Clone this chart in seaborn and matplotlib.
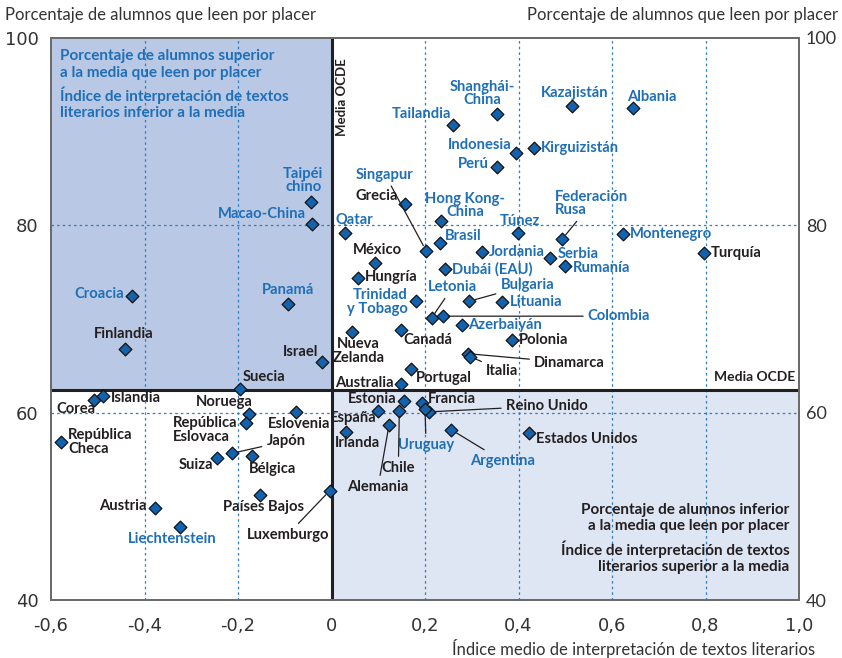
import matplotlib
matplotlib.use("Agg")
import matplotlib.pyplot as plt
import seaborn as sns
import pandas as pd

# ---- data ----
countries = [
    "Tailandia", "Shanghái-China", "Kazajistán", "Albania", "Indonesia", "Kirguizistán",
    "Perú", "Grecia", "Singapur", "Hong Kong-China", "Qatar", "Túnez", "Federación Rusa",
    "Montenegro", "Turquía", "Brasil", "México", "Hungría", "Jordania", "Serbia", "Rumanía",
    "Dubái (EAU)", "Trinidad y Tobago", "Letonia", "Colombia", "Bulgaria", "Lituania",
    "Azerbaiyán", "Nueva Zelanda", "Canadá", "Polonia", "Dinamarca", "Italia", "Portugal",
    "Australia", "Taipéi chino", "Macao-China", "Croacia", "Panamá", "Finlandia", "Israel",
    "Suecia", "Corea", "Islandia", "República Checa", "Noruega", "República Eslovaca",
    "Eslovenia", "Japón", "Suiza", "Bélgica", "Países Bajos", "Luxemburgo", "Austria",
    "Liechtenstein", "Estonia", "Francia", "Reino Unido", "Uruguay", "España", "Chile",
    "Alemania", "Irlanda", "Argentina", "Estados Unidos",
]
lit_index = [
    0.260, 0.353, 0.514, 0.645, 0.395, 0.433,
    0.354, 0.158, 0.202, 0.234, 0.028, 0.398, 0.493,
    0.623, 0.796, 0.232, 0.092, 0.057, 0.322, 0.468, 0.500,
    0.242, 0.180, 0.214, 0.238, 0.295, 0.365,
    0.278, 0.043, 0.149, 0.385, 0.292, 0.296, 0.169,
    0.148, -0.043, -0.041, -0.426, -0.094, -0.441, -0.021,
    -0.195, -0.508, -0.489, -0.578, -0.177, -0.182,
    -0.075, -0.212, -0.244, -0.171, -0.152, -0.004, -0.378,
    -0.324, 0.155, 0.193, 0.208, 0.200, 0.099, 0.145,
    0.123, 0.032, 0.256, 0.422,
]
pct_read = [
    90.7, 91.9, 92.7, 92.5, 87.7, 88.2,
    86.2, 82.3, 77.3, 80.4, 79.2, 79.2, 78.5,
    79.1, 77.0, 78.1, 76.0, 74.4, 77.1, 76.5, 75.6,
    75.3, 71.9, 70.1, 70.3, 71.9, 71.8,
    69.4, 68.6, 68.8, 67.8, 66.3, 66.0, 64.7,
    63.1, 82.5, 80.1, 72.5, 71.6, 66.8, 65.4,
    62.5, 61.35, 61.8, 56.9, 59.9, 58.9,
    60.1, 55.7, 55.2, 55.4, 51.2, 51.7, 49.9,
    47.8, 61.3, 61.1, 60.1, 60.4, 60.2, 60.2,
    58.7, 58.0, 58.2, 57.9,
]
partners = [
    "Tailandia", "Shanghái-China", "Kazajistán", "Albania", "Indonesia", "Kirguizistán",
    "Perú", "Singapur", "Hong Kong-China", "Qatar", "Túnez", "Federación Rusa", "Montenegro",
    "Brasil", "Jordania", "Serbia", "Rumanía", "Dubái (EAU)", "Trinidad y Tobago", "Letonia",
    "Colombia", "Bulgaria", "Lituania", "Azerbaiyán", "Taipéi chino", "Macao-China",
    "Croacia", "Panamá", "Liechtenstein", "Uruguay", "Argentina",
]
oecd_mean_x = 0.0
oecd_mean_y = 62.4
x_ticks = [-0.6, -0.4, -0.2, 0.0, 0.2, 0.4, 0.6, 0.8, 1.0]
x_tick_labels = ["-0,6", "-0,4", "-0,2", "0", "0,2", "0,4", "0,6", "0,8", "1,0"]
y_ticks = [40, 60, 80, 100]

df = pd.DataFrame({"country": countries, "x": lit_index, "y": pct_read})

# ---- label placement (offset in pixels, alignment, leader line) ----
wrap = {
    "Shanghái-China": "Shanghái-\nChina", "Hong Kong-China": "Hong Kong-\nChina",
    "Federación Rusa": "Federación\nRusa", "Trinidad y Tobago": "Trinidad\ny Tobago",
    "Nueva Zelanda": "Nueva\nZelanda", "Taipéi chino": "Taipéi\nchino",
    "República Checa": "República\nCheca", "República Eslovaca": "República\nEslovaca",
}
label_pos = {
    "Tailandia": (-2, 11, "right", False), "Shanghái-China": (-14, 20, "center", False),
    "Kazajistán": (3, 13, "center", False), "Albania": (-6, 11, "left", False),
    "Indonesia": (-5, 8, "right", False), "Kirguizistán": (7, 0, "left", False),
    "Perú": (-8, 3, "right", False), "Grecia": (-7, 8, "right", False),
    "Singapur": (-41, 76, "center", True), "Hong Kong-China": (24, 16, "center", False),
    "Qatar": (-9, 13, "left", False), "Túnez": (2, 12, "center", False),
    "Federación Rusa": (-7, 36, "left", True), "Montenegro": (7, 0, "left", False),
    "Turquía": (7, 0, "left", False), "Brasil": (5, 7, "left", False),
    "México": (3, 13, "center", False), "Hungría": (7, 1, "left", False),
    "Jordania": (7, 0, "left", False), "Serbia": (7, 4, "left", False),
    "Rumanía": (8, -2, "left", False), "Dubái (EAU)": (7, 0, "left", False),
    "Trinidad y Tobago": (-8, -1, "right", False), "Letonia": (21, 31, "center", True),
    "Colombia": (145, 0, "left", True), "Bulgaria": (31, 16, "left", True),
    "Lituania": (8, 0, "left", False), "Azerbaiyán": (7, 0, "left", False),
    "Nueva Zelanda": (7, -19, "center", False), "Canadá": (2, -10, "left", False),
    "Polonia": (7, 0, "left", False), "Dinamarca": (66, -9, "left", True),
    "Italia": (16, -14, "left", True), "Portugal": (5, -9, "left", False),
    "Australia": (-7, 1, "right", False), "Taipéi chino": (-8, 21, "center", False),
    "Macao-China": (-6, 10, "right", False), "Croacia": (-8, 2, "right", False),
    "Panamá": (0, 14, "center", False), "Finlandia": (-2, 15, "center", False),
    "Israel": (-3, 10, "right", False), "Suecia": (2, 12, "left", False),
    "Corea": (-18, -9, "center", False), "Islandia": (8, -2, "left", False),
    "República Checa": (7, 0, "left", False), "Noruega": (-24, 12, "center", False),
    "República Eslovaca": (-9, -7, "right", False), "Eslovenia": (3, -12, "center", False),
    "Japón": (34, 12, "left", True), "Suiza": (-4, -7, "right", False),
    "Bélgica": (-3, -13, "left", False), "Países Bajos": (3, -12, "center", False),
    "Luxemburgo": (-42, -44, "center", True), "Austria": (-8, 2, "right", False),
    "Liechtenstein": (-8, -12, "center", False), "Estonia": (-7, 2, "right", False),
    "Francia": (6, 4, "left", False), "Reino Unido": (77, 6, "left", True),
    "Uruguay": (1, -36, "center", True), "España": (-1, -7, "right", False),
    "Chile": (-1, -57, "center", True), "Alemania": (-11, -62, "center", True),
    "Irlanda": (11, -11, "center", False), "Argentina": (51, -31, "center", True),
    "Estados Unidos": (7, -6, "left", False),
}

BLUE_TXT = "#1f6fb7"
DARK = "#231f20"
MARK = "#1262ad"
GRID = "#2b7bc4"

fig, ax = plt.subplots(figsize=(8.42, 6.58), dpi=100)
fig.subplots_adjust(left=0.0606, right=0.949, top=0.943, bottom=0.0874)
sns.set_style("white")
plt.rcParams["font.family"] = ["Lato", "DejaVu Sans"]

ax.set_xlim(-0.6, 1.0)
ax.set_ylim(40, 100)

# quadrant shading
ax.fill_between([-0.6, oecd_mean_x], oecd_mean_y, 100, color="#b9c9e5", zorder=0, lw=0)
ax.fill_between([oecd_mean_x, 1.0], 40, oecd_mean_y, color="#dfe6f3", zorder=0, lw=0)

# dotted guide lines
for gx in [-0.4, -0.2, 0.2, 0.4, 0.6, 0.8]:
    ax.axvline(gx, color=GRID, lw=0.9, ls=(0, (2, 2.5)), zorder=1)
for gy in [60, 80]:
    ax.axhline(gy, color=GRID, lw=0.9, ls=(0, (2, 2.5)), zorder=1)

ax.axvline(oecd_mean_x, color=DARK, lw=2.2, zorder=2)
ax.axhline(oecd_mean_y, color=DARK, lw=2.2, zorder=2)

sns.scatterplot(data=df, x="x", y="y", marker="D", s=42, color=MARK,
                edgecolor="#111111", linewidth=0.9, zorder=5, ax=ax, legend=False)

for name, px, py in zip(countries, lit_index, pct_read):
    dx, dy, ha, leader = label_pos[name]
    col = BLUE_TXT if name in partners else DARK
    arrow = None
    if leader:
        arrow = dict(arrowstyle="-", color=DARK, lw=0.9, shrinkA=1, shrinkB=4)
    ax.annotate(wrap.get(name, name), (px, py), xytext=(dx, dy), textcoords="offset pixels",
                ha=ha, va="center", multialignment=("right" if name == "Trinidad y Tobago"
                                                    else "left" if ha != "center" else "center"),
                fontsize=10.6, fontweight="bold", color=col, linespacing=0.95,
                arrowprops=arrow, zorder=6)

# quadrant notes
note_kw = dict(transform=ax.transAxes, fontsize=11, fontweight="bold", linespacing=1.22)
ax.text(0.0125, 0.979, "Porcentaje de alumnos superior\na la media que leen por placer",
        ha="left", va="top", color=BLUE_TXT, **note_kw)
ax.text(0.0125, 0.913, "Índice de interpretación de textos\nliterarios inferior a la media",
        ha="left", va="top", color=BLUE_TXT, **note_kw)
ax.text(0.987, 0.174, "Porcentaje de alumnos inferior\na la media que leen por placer",
        ha="right", va="top", color=DARK, **note_kw)
ax.text(0.987, 0.107, "Índice de interpretación de textos\nliterarios superior a la media",
        ha="right", va="top", color=DARK, **note_kw)
ax.text(0.992, oecd_mean_y + 0.8, "Media OCDE", ha="right", va="bottom", fontsize=10,
        fontweight="bold", color=DARK)
ax.text(0.022, 97.8, "Media OCDE", ha="center", va="top", rotation=90, fontsize=9.5,
        fontweight="bold", color=DARK)

# axes, ticks
ax.set_xticks(x_ticks)
ax.set_xticklabels(x_tick_labels)
ax.set_yticks(y_ticks)
ax.tick_params(axis="x", length=0, pad=12, labelsize=13, colors="#333333")
ax.tick_params(axis="y", length=0, pad=9, labelsize=13, colors="#333333")
ax.set_xlabel("")
ax.set_ylabel("")
ax2 = ax.twinx()
ax2.set_ylim(40, 100)
ax2.set_yticks(y_ticks)
ax2.tick_params(axis="y", length=0, pad=5, labelsize=13, colors="#333333")
for a in (ax, ax2):
    for sp in a.spines.values():
        sp.set_color("#6b6b6b")
        sp.set_linewidth(1.4)

fig.text(5 / 842, 1 - 15 / 658, "Porcentaje de alumnos que leen por placer",
         ha="left", va="center", fontsize=12, color="#333333")
fig.text(838 / 842, 1 - 15 / 658, "Porcentaje de alumnos que leen por placer",
         ha="right", va="center", fontsize=12, color="#333333")
fig.text(815 / 842, 1 - 648 / 658, "Índice medio de interpretación de textos literarios",
         ha="right", va="center", fontsize=12, color="#333333")

fig.savefig("out.png", dpi=100)
